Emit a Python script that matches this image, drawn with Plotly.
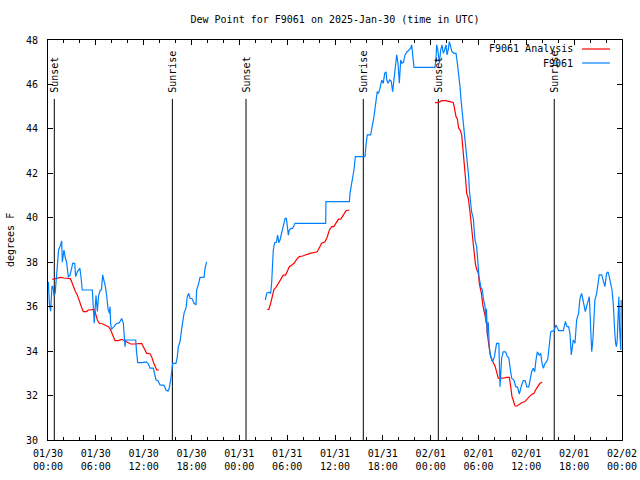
import pandas as pd
import plotly.graph_objects as go

TITLE = "Dew Point for F9061 on 2025-Jan-30 (time in UTC)"
Y_LABEL = "degrees F"
BASE = pd.Timestamp("2025-01-30 00:00")

# hours since 2025-01-30 00:00 UTC ; None marks a data gap
obs_name = "F9061"
obs_hours = [0.04,0.17,0.33,0.5,0.62,0.75,0.9,1.17,1.33,1.58,1.71,1.8,2.0,2.17,2.33,2.55,2.75,2.97,3.1,3.35,3.47,3.68,4.0,4.15,4.3,5.56,5.69,5.8,6.02,6.19,6.35,6.56,6.7,6.86,7.0,7.2,7.36,7.53,7.7,7.78,7.86,7.95,8.28,8.53,8.95,9.24,9.45,9.58,9.66,9.74,11.0,11.1,11.25,11.8,12.3,12.55,12.8,13.2,13.42,13.55,13.8,14.05,14.55,14.8,15.05,15.2,15.39,15.55,15.64,16.05,16.2,16.35,16.56,16.77,16.9,17.06,17.31,17.47,17.65,17.81,18.1,18.31,18.56,18.65,18.9,19.07,19.57,19.7,19.9,
             None,
             27.26,27.43,27.7,27.93,28.05,28.18,28.26,28.43,28.65,28.8,28.95,29.1,29.3,29.43,29.6,29.75,29.9,30.05,30.15,30.27,30.5,30.69,30.98,34.83,34.87,37.8,37.88,38.09,38.22,38.38,38.55,39.76,39.89,40.05,40.47,40.6,40.72,40.89,41.05,41.22,41.3,41.45,41.65,41.86,42.05,42.23,42.4,42.5,42.65,42.85,43.05,43.23,43.4,43.57,43.74,43.9,44.07,44.24,44.4,44.6,44.78,45.0,45.24,45.49,45.62,45.7,45.83,45.91,48.54,48.67,48.75,48.9,49.09,49.26,49.42,49.59,49.75,49.92,50.05,50.2,50.34,50.5,50.67,50.92,51.18,51.35,51.51,51.68,51.85,52.02,52.18,52.35,52.52,52.65,52.77,52.85,53.0,53.14,53.35,53.56,53.77,53.9,54.06,54.28,54.48,54.6,54.82,54.94,55.0,55.1,55.23,55.35,55.52,55.77,56.0,56.27,56.55,56.7,56.9,57.1,57.4,57.62,57.8,57.95,58.16,58.45,58.66,58.9,59.12,59.35,59.62,59.85,60.05,60.3,60.46,60.67,60.87,61.05,61.21,61.38,61.6,61.8,61.97,62.13,62.35,62.55,62.7,62.89,63.06,63.47,63.72,64.05,64.64,64.89,65.1,65.3,65.47,65.64,65.75,65.89,66.1,66.31,66.55,66.73,66.94,67.05,67.23,67.4,67.55,67.74,67.9,67.99,68.2,68.35,68.49,68.6,68.82,69.02,69.15,69.45,69.65,69.85,70.07,70.24,70.4,70.6,70.75,70.9,71.0,71.1,71.2,71.3,71.4,71.5,71.6,71.7,71.8,71.85,71.9]
obs_values = [37.12,36.15,35.8,36.93,36.9,36.5,36.6,38.0,38.55,38.78,38.96,38.0,38.55,38.2,38.0,37.35,37.4,37.73,37.95,37.95,37.35,37.57,37.73,37.3,36.75,36.75,36.08,35.26,36.5,35.78,36.5,36.75,36.75,37.43,37.2,36.9,36.5,35.9,35.7,36.0,35.25,34.98,35.1,35.22,35.28,35.47,35.25,34.73,34.2,34.5,34.5,34.0,33.48,33.48,33.51,33.45,33.23,33.23,32.93,32.7,32.67,32.48,32.46,32.25,32.2,32.33,32.7,33.23,33.45,33.45,33.7,34.2,34.42,35.0,35.33,35.7,35.93,36.45,36.6,36.38,36.35,36.15,36.08,36.75,37.05,37.32,37.32,37.73,38.02,
              None,
              36.3,36.6,36.65,36.6,37.05,38.02,38.55,38.88,38.9,39.22,38.88,39.0,39.3,39.52,39.67,39.97,39.97,39.45,39.22,39.45,39.52,39.52,39.75,39.75,40.73,40.73,41.1,41.55,41.78,42.15,42.75,42.75,43.28,43.73,43.73,43.95,44.25,44.55,45.0,45.45,45.68,45.6,45.83,46.2,46.05,46.5,46.57,46.2,46.05,46.2,46.15,45.68,46.2,46.95,47.33,46.95,46.05,47.1,46.95,47.0,47.33,47.45,47.55,47.63,47.78,47.55,47.03,46.77,46.77,47.17,47.78,47.55,46.95,47.55,47.78,47.4,47.55,47.78,47.33,47.55,47.93,47.63,47.48,47.4,47.4,46.95,46.5,45.9,45.15,44.55,43.95,43.5,43.05,42.45,41.85,41.25,40.8,40.27,39.97,39.0,38.7,37.95,37.35,36.9,36.75,36.38,36.0,35.25,35.9,34.8,35.3,34.2,33.75,33.52,33.75,34.35,34.35,32.4,33.68,33.97,33.97,33.75,33.7,33.3,32.78,32.7,32.4,32.38,32.06,32.4,32.67,32.67,32.4,32.38,32.7,33.07,33.23,33.07,33.6,33.97,33.82,33.9,33.45,33.23,33.45,33.52,33.67,34.35,34.87,34.92,35.18,34.92,34.92,35.33,35.1,35.1,34.8,33.83,34.3,34.5,34.35,35.4,35.7,36.38,36.6,36.38,36.08,35.78,36.0,36.3,36.45,35.7,33.97,34.5,35.7,36.3,36.6,37.2,37.43,37.43,37.2,36.9,37.5,37.57,37.35,36.9,36.75,36.15,35.25,34.8,34.35,34.2,34.5,35.85,36.45,35.0,34.05,34.05,36.3]

ana_name = "F9061 Analysis"
ana_hours = [0.54,1.0,1.3,1.6,2.0,2.3,2.42,2.8,2.97,3.18,3.43,3.68,3.93,4.18,4.43,4.85,5.06,5.48,5.8,5.9,6.02,6.19,6.44,6.9,7.36,7.6,7.86,8.11,8.4,8.82,9.24,9.6,9.85,10.07,10.37,10.9,11.54,11.75,11.96,12.17,12.38,12.8,13.0,13.2,13.42,13.63,13.92,
             None,
             27.5,27.7,27.93,28.18,28.35,28.6,28.89,29.19,29.51,29.8,30.02,30.27,30.56,30.86,31.19,31.53,31.95,32.36,32.86,33.78,34.03,34.33,34.75,35.04,35.29,35.59,35.85,36.13,36.42,36.75,37.04,37.38,37.8,
             None,
             48.54,48.95,49.38,49.9,50.43,50.84,50.95,51.05,51.18,51.35,51.51,51.7,51.89,52.02,52.18,52.31,52.39,52.52,52.72,52.93,53.14,53.27,53.43,53.6,53.77,53.98,54.1,54.28,54.4,54.53,54.69,54.86,55.03,55.1,55.28,55.44,55.69,55.9,56.1,56.27,56.48,56.8,57.1,57.54,57.87,58.04,58.2,58.35,58.58,58.85,59.12,59.41,59.83,60.05,60.38,60.67,60.96,61.21,61.46,61.71,61.97]
ana_values = [37.23,37.28,37.32,37.32,37.29,37.29,37.26,37.26,37.12,36.9,36.68,36.53,36.22,36.0,35.78,35.78,35.85,35.88,35.88,35.78,35.55,35.4,35.25,35.22,35.13,35.1,34.95,34.73,34.47,34.47,34.53,34.47,34.42,34.38,34.32,34.32,34.35,34.35,34.2,34.05,33.9,33.88,33.75,33.52,33.3,33.15,33.15,
              None,
              35.88,35.88,36.15,36.53,36.78,36.87,37.05,37.23,37.42,37.42,37.57,37.8,37.86,37.95,38.13,38.25,38.28,38.35,38.4,38.47,38.62,38.85,38.92,39.15,39.45,39.6,39.6,39.75,39.93,39.95,40.13,40.32,40.35,
              None,
              45.18,45.18,45.27,45.27,45.23,45.18,45.0,44.85,44.55,44.45,44.03,43.95,43.73,43.2,42.68,42.15,41.7,41.1,40.88,40.27,39.52,39.0,38.47,37.95,37.68,37.5,37.05,36.75,36.53,36.08,35.78,35.55,35.25,34.8,34.35,33.9,33.6,33.45,33.3,33.07,32.78,32.78,32.78,32.82,32.82,32.4,31.95,31.8,31.53,31.53,31.62,31.68,31.73,31.8,31.95,32.05,32.1,32.28,32.43,32.55,32.6]

# sunrise / sunset events (hours since base)
sun_hours = [0.79, 15.6, 24.84, 39.55, 48.96, 63.5]
sun_labels = ["Sunset", "Sunrise", "Sunset", "Sunrise", "Sunset", "Sunrise"]

x_tickhours = [0, 6, 12, 18, 24, 30, 36, 42, 48, 54, 60, 66, 72]
x_ticktext = ["01/30<br>00:00", "01/30<br>06:00", "01/30<br>12:00", "01/30<br>18:00",
              "01/31<br>00:00", "01/31<br>06:00", "01/31<br>12:00", "01/31<br>18:00",
              "02/01<br>00:00", "02/01<br>06:00", "02/01<br>12:00", "02/01<br>18:00",
              "02/02<br>00:00"]
y_min, y_max, y_step = 30, 48, 2


def to_time(hours):
    return [None if h is None else BASE + pd.Timedelta(hours=h) for h in hours]


FONT = "DejaVu Sans Mono"
RED = "#ff0000"
BLUE = "#0080ff"

fig = go.Figure()
fig.add_trace(go.Scatter(x=to_time(ana_hours), y=ana_values, name=ana_name, mode="lines",
                         line=dict(color=RED, width=1.2), connectgaps=False))
fig.add_trace(go.Scatter(x=to_time(obs_hours), y=obs_values, name=obs_name, mode="lines",
                         line=dict(color=BLUE, width=1.2), connectgaps=False))

line_top = 45.35
for h, lab in zip(sun_hours, sun_labels):
    t = BASE + pd.Timedelta(hours=h)
    fig.add_shape(type="line", xref="x", yref="y", x0=t, x1=t, y0=y_min, y1=line_top,
                  line=dict(color="black", width=1), layer="below")
    fig.add_annotation(x=t, y=45.55, xref="x", yref="y", text=lab, textangle=-90,
                       showarrow=False, xanchor="center", yanchor="bottom",
                       font=dict(family=FONT, size=10, color="black"))

W, H = 640, 480
L, R, T, B = 48, 622, 40, 440  # plot area in pixels

# gnuplot-like key: text then line sample
key_items = [(ana_name, RED, 49), (obs_name, BLUE, 63)]
for name, col, ypx in key_items:
    yp = (B - ypx) / (B - T)
    fig.add_annotation(x=(575 - L) / (R - L), y=yp, xref="paper", yref="paper", text=name,
                       showarrow=False, xanchor="right", yanchor="middle",
                       font=dict(family=FONT, size=10, color="black"))
    fig.add_shape(type="line", xref="paper", yref="paper",
                  x0=(582 - L) / (R - L), x1=(610 - L) / (R - L), y0=yp, y1=yp,
                  line=dict(color=col, width=1.2))

fig.add_annotation(x=(10 - L) / (R - L), y=0.5, xref="paper", yref="paper", text=Y_LABEL,
                   textangle=-90, showarrow=False, xanchor="center", yanchor="middle",
                   font=dict(family=FONT, size=10, color="black"))

fig.update_layout(
    width=W, height=H,
    margin=dict(l=L, r=W - R, t=T, b=H - B, pad=0),
    paper_bgcolor="white", plot_bgcolor="white",
    showlegend=False,
    font=dict(family=FONT, size=10, color="black"),
    title=dict(text=TITLE, x=0.5, xref="paper", xanchor="center", y=1 - 19 / H,
               yref="container", yanchor="middle", automargin=False,
               font=dict(family=FONT, size=10, color="black")),
)
fig.update_xaxes(
    type="date", automargin=False,
    range=[BASE, BASE + pd.Timedelta(hours=72)],
    tickvals=to_time(x_tickhours), ticktext=x_ticktext,
    ticks="inside", ticklen=5, tickcolor="black", tickwidth=1,
    minor=dict(dtick=2 * 3600 * 1000, ticks="inside", ticklen=3, tickcolor="black", tickwidth=1, showgrid=False),
    showline=True, linecolor="black", linewidth=1, mirror="ticks",
    showgrid=False, zeroline=False,
    ticklabelstandoff=4,
    tickfont=dict(family=FONT, size=10, color="black"),
)
fig.update_yaxes(
    automargin=False,
    range=[y_min, y_max], tick0=y_min, dtick=y_step,
    ticks="inside", ticklen=5, tickcolor="black", tickwidth=1,
    showline=True, linecolor="black", linewidth=1, mirror="ticks",
    showgrid=False, zeroline=False,
    ticklabelstandoff=7,
    tickfont=dict(family=FONT, size=10, color="black"),
)

# remove the browser's default 8px page margin so the figure sits at the window origin
fig.write_html("out.html", config={"displayModeBar": False},
               post_script="document.body.style.margin='0';")
